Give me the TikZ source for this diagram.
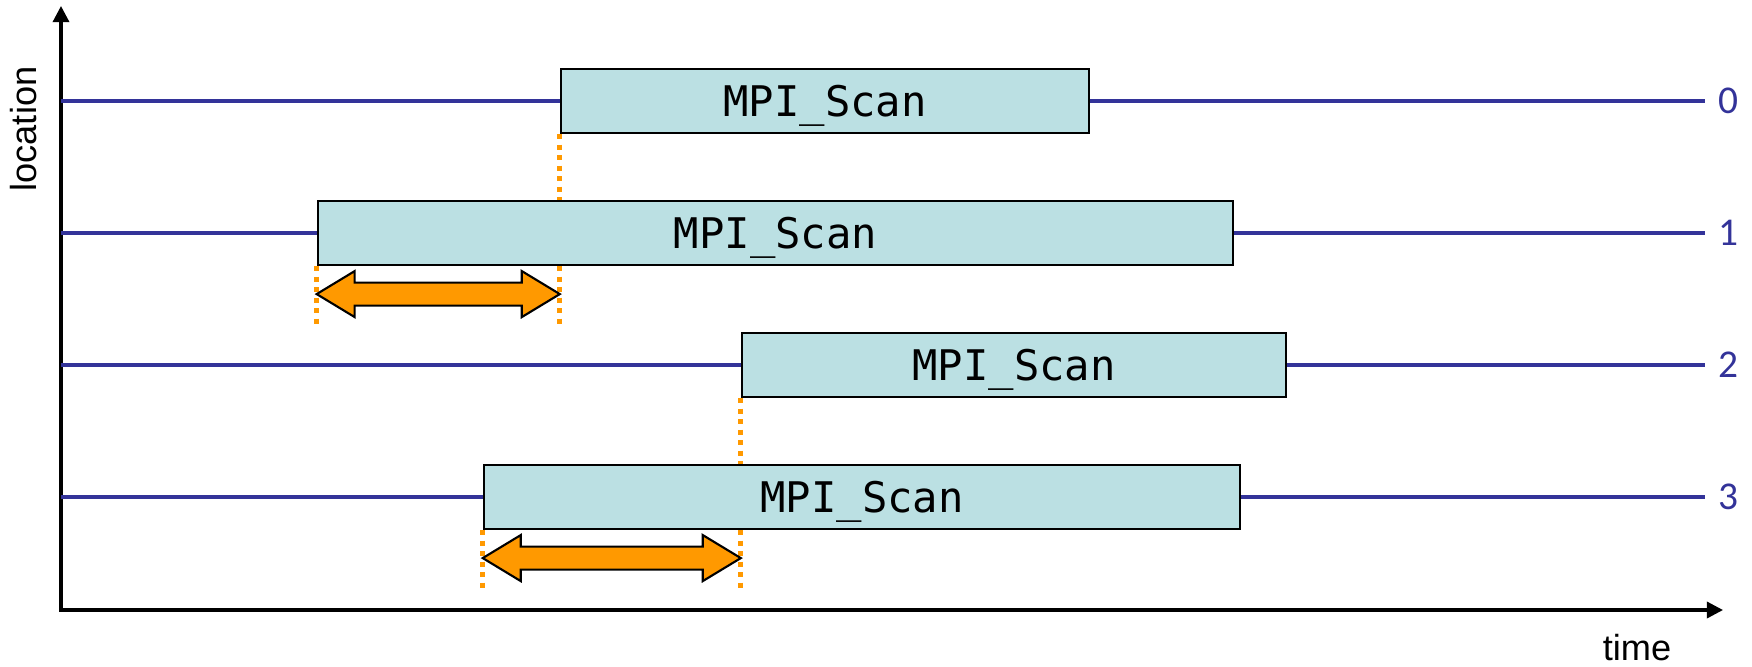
\documentclass[tikz,border=0pt]{standalone}
\usepackage{fontspec}
\setmainfont{Liberation Sans}
\newfontfamily\monof{DejaVu Sans Mono}
\newfontfamily\digf{Carlito}
\usetikzlibrary{arrows.meta,calc}
\definecolor{lineblue}{HTML}{333399}
\definecolor{boxfill}{HTML}{BBE0E3}
\definecolor{orng}{HTML}{FF9900}
\begin{document}
\begin{tikzpicture}[x=0.01cm,y=-0.01cm,
  mpibox/.style={draw=black, line width=0.6pt, fill=boxfill, inner sep=0pt,
    minimum height=0.64cm, text height=8.6pt, text depth=0pt,
    font=\monof\fontsize{12}{14}\selectfont},
  timeline/.style={draw=lineblue, line width=1.14pt},
  axisline/.style={draw=black, line width=0.9pt},
  guide/.style={draw=orng, line width=1.5pt, dash pattern=on 1.45pt off 1.54pt},
  spanarrow/.style={draw=black, line width=0.6pt, fill=orng, line join=miter},
  rank/.style={font=\digf\fontsize{11.2}{13}\selectfont, text=lineblue, inner sep=0pt},
  axlabel/.style={font=\fontsize{10.3}{12}\selectfont, inner sep=0pt}]
\useasboundingbox (0,0) rectangle (1752,666);

% axes
\coordinate (O) at (61,610);
\coordinate (ytip) at (61,6);
\coordinate (xtip) at (1723,610);
\draw[axisline, {Triangle[length=4.6pt,width=4.6pt]}-{Triangle[length=4.6pt,width=4.6pt]}]
  (ytip) -- (O) -- (xtip);
\node[axlabel, rotate=90] (loc) at (24,129) {location};
\node[axlabel, anchor=base] (time) at (1637,660) {time};

% timeline ends
\coordinate (l0) at (61,101);  \coordinate (e0) at (1705,101);
\coordinate (l1) at (61,233);  \coordinate (e1) at (1705,233);
\coordinate (l2) at (61,365);  \coordinate (e2) at (1705,365);
\coordinate (l3) at (61,497);  \coordinate (e3) at (1705,497);

% boxes
\node[mpibox, minimum width=5.28cm] (b0) at (825,101) {MPI\_Scan};
\node[mpibox, minimum width=9.15cm] (b1) at (775.5,233) {MPI\_Scan};
\node[mpibox, minimum width=5.44cm] (b2) at (1014,365) {MPI\_Scan};
\node[mpibox, minimum width=7.56cm] (b3) at (862,497) {MPI\_Scan};

% timelines
\draw[timeline] (l0) -- (b0.west) (b0.east) -- (e0);
\draw[timeline] (l1) -- (b1.west) (b1.east) -- (e1);
\draw[timeline] (l2) -- (b2.west) (b2.east) -- (e2);
\draw[timeline] (l3) -- (b3.west) (b3.east) -- (e3);

\node[rank] (r0) at (1728,101) {0};
\node[rank] (r1) at (1728,233) {1};
\node[rank] (r2) at (1728,365) {2};
\node[rank] (r3) at (1728,497) {3};

% guides
\draw[guide] (b0.south west) -- (b0.south west |- b1.north);
\draw[guide] (b1.south west) -- ++(0,58);
\draw[guide] (b0.south west |- b1.south) -- ++(0,58);
\draw[guide] (b2.south west) -- (b2.south west |- b3.north);
\draw[guide] (b3.south west) -- ++(0,61);
\draw[guide] (b2.south west |- b3.south) -- ++(0,61);

% span arrows
\coordinate (a1l) at ($(b1.south west)+(0,28)$);
\coordinate (a1r) at (b0.south west |- a1l);
\coordinate (a2l) at ($(b3.south west)+(0,28)$);
\coordinate (a2r) at (b2.south west |- a2l);
\draw[spanarrow] (a1l) -- ($(a1l)+(38,-23)$) -- ($(a1l)+(38,-11.5)$) -- ($(a1r)+(-38,-11.5)$)
  -- ($(a1r)+(-38,-23)$) -- (a1r) -- ($(a1r)+(-38,23)$) -- ($(a1r)+(-38,11.5)$)
  -- ($(a1l)+(38,11.5)$) -- ($(a1l)+(38,23)$) -- cycle;
\draw[spanarrow] (a2l) -- ($(a2l)+(38,-23)$) -- ($(a2l)+(38,-11.5)$) -- ($(a2r)+(-38,-11.5)$)
  -- ($(a2r)+(-38,-23)$) -- (a2r) -- ($(a2r)+(-38,23)$) -- ($(a2r)+(-38,11.5)$)
  -- ($(a2l)+(38,11.5)$) -- ($(a2l)+(38,23)$) -- cycle;
\end{tikzpicture}
\end{document}
